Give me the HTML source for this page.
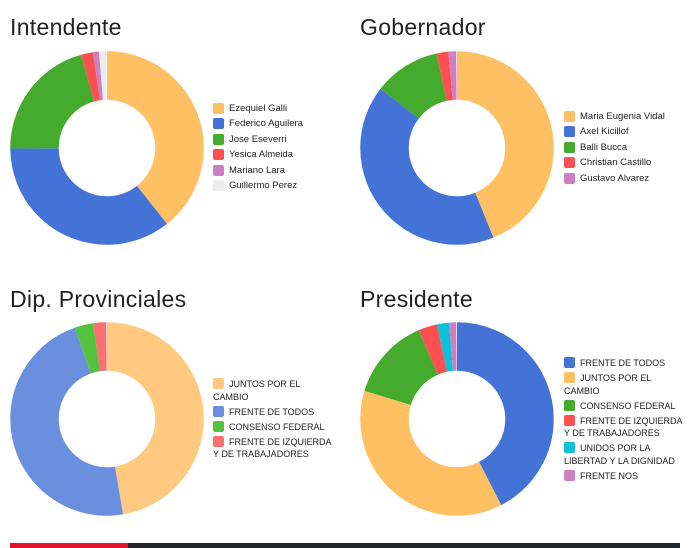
<!DOCTYPE html>
<html><head><meta charset="utf-8"><style>
body{margin:0;background:#fff;width:694px;height:548px;overflow:hidden;position:relative;font-family:"Liberation Sans",sans-serif}
.t{position:absolute;font-size:23px;color:#222;letter-spacing:0.3px}
.lg{position:absolute;font-size:9.5px;color:#222;line-height:15.4px}
.lg div{position:relative;padding-left:16px}
.lg span{position:absolute;left:0;top:2px;width:11px;height:11px;border-radius:2px}
.lg.u{font-size:9px;line-height:12.5px}
.lg.u div{margin-bottom:2.5px}
.lg.u span{top:0}
.lg.u .w{padding-left:0;text-indent:16px}
svg{position:absolute;left:0;top:0}
</style></head><body>
<div class="t" style="left:10px;top:14px">Intendente</div>
<div class="t" style="left:360px;top:14px">Gobernador</div>
<div class="t" style="left:10px;top:286px">Dip. Provinciales</div>
<div class="t" style="left:360px;top:286px">Presidente</div>
<svg width="694" height="548">
<g fill="none" stroke-width="48.5">
<g transform="translate(107,148) rotate(-90)">
<circle r="72.5" pathLength="100" stroke="#ffbf63" stroke-dasharray="39.4 100"/>
<circle r="72.5" pathLength="100" stroke="#4373d6" stroke-dasharray="0 39.4 35.6 100"/>
<circle r="72.5" pathLength="100" stroke="#44ab2c" stroke-dasharray="0 75 20.8 100"/>
<circle r="72.5" pathLength="100" stroke="#fd5050" stroke-dasharray="0 95.8 2 100"/>
<circle r="72.5" pathLength="100" stroke="#cc80c2" stroke-dasharray="0 97.8 1 100"/>
<circle r="72.5" pathLength="100" stroke="#ececec" stroke-dasharray="0 98.8 1.2 100"/>
</g>
<g transform="translate(457,148) rotate(-90)">
<circle r="72.5" pathLength="100" stroke="#ffbf63" stroke-dasharray="43.9 100"/>
<circle r="72.5" pathLength="100" stroke="#4373d6" stroke-dasharray="0 43.9 41.7 100"/>
<circle r="72.5" pathLength="100" stroke="#44ab2c" stroke-dasharray="0 85.6 11.1 100"/>
<circle r="72.5" pathLength="100" stroke="#fd5050" stroke-dasharray="0 96.7 2 100"/>
<circle r="72.5" pathLength="100" stroke="#cc80c2" stroke-dasharray="0 98.7 1.3 100"/>
</g>
<g transform="translate(107,419) rotate(-90)">
<circle r="72.5" pathLength="100" stroke="#ffca80" stroke-dasharray="47.4 100"/>
<circle r="72.5" pathLength="100" stroke="#6a8fde" stroke-dasharray="0 47.4 47.3 100"/>
<circle r="72.5" pathLength="100" stroke="#55c23f" stroke-dasharray="0 94.7 3.1 100"/>
<circle r="72.5" pathLength="100" stroke="#f87070" stroke-dasharray="0 97.8 2.2 100"/>
</g>
<g transform="translate(457,419) rotate(-90)">
<circle r="72.5" pathLength="100" stroke="#4373d6" stroke-dasharray="42.5 100"/>
<circle r="72.5" pathLength="100" stroke="#ffbf63" stroke-dasharray="0 42.5 37.3 100"/>
<circle r="72.5" pathLength="100" stroke="#44ab2c" stroke-dasharray="0 79.8 13.8 100"/>
<circle r="72.5" pathLength="100" stroke="#fd5050" stroke-dasharray="0 93.6 3.2 100"/>
<circle r="72.5" pathLength="100" stroke="#0dc2d8" stroke-dasharray="0 96.8 2 100"/>
<circle r="72.5" pathLength="100" stroke="#cc80c2" stroke-dasharray="0 98.8 1.2 100"/>
</g>
</g>
<rect x="10" y="543" width="118" height="5" fill="#e8112d"/>
<rect x="128" y="543" width="552" height="5" fill="#24262e"/>
</svg>
<div class="lg" style="left:213px;top:101px">
<div><span style="background:#ffbf63"></span>Ezequiel Galli</div>
<div><span style="background:#4373d6"></span>Federico Aguilera</div>
<div><span style="background:#44ab2c"></span>Jose Eseverri</div>
<div><span style="background:#fd5050"></span>Yesica Almeida</div>
<div><span style="background:#cc80c2"></span>Mariano Lara</div>
<div><span style="background:#ececec"></span>Guillermo Perez</div>
</div>
<div class="lg" style="left:564px;top:109px">
<div><span style="background:#ffbf63"></span>Maria Eugenia Vidal</div>
<div><span style="background:#4373d6"></span>Axel Kicillof</div>
<div><span style="background:#44ab2c"></span>Balli Bucca</div>
<div><span style="background:#fd5050"></span>Christian Castillo</div>
<div><span style="background:#cc80c2"></span>Gustavo Alvarez</div>
</div>
<div class="lg u" style="left:213px;top:378px;width:120px">
<div class="w"><span style="background:#ffca80"></span>JUNTOS POR EL CAMBIO</div>
<div><span style="background:#6a8fde"></span>FRENTE DE TODOS</div>
<div><span style="background:#55c23f"></span>CONSENSO FEDERAL</div>
<div class="w"><span style="background:#f87070"></span>FRENTE DE IZQUIERDA Y DE TRABAJADORES</div>
</div>
<div class="lg u" style="left:564px;top:357px;width:120px">
<div><span style="background:#4373d6"></span>FRENTE DE TODOS</div>
<div class="w"><span style="background:#ffbf63"></span>JUNTOS POR EL CAMBIO</div>
<div><span style="background:#44ab2c"></span>CONSENSO FEDERAL</div>
<div class="w"><span style="background:#fd5050"></span>FRENTE DE IZQUIERDA Y DE TRABAJADORES</div>
<div class="w"><span style="background:#0dc2d8"></span>UNIDOS POR LA LIBERTAD Y LA DIGNIDAD</div>
<div><span style="background:#cc80c2"></span>FRENTE NOS</div>
</div>
</body></html>
